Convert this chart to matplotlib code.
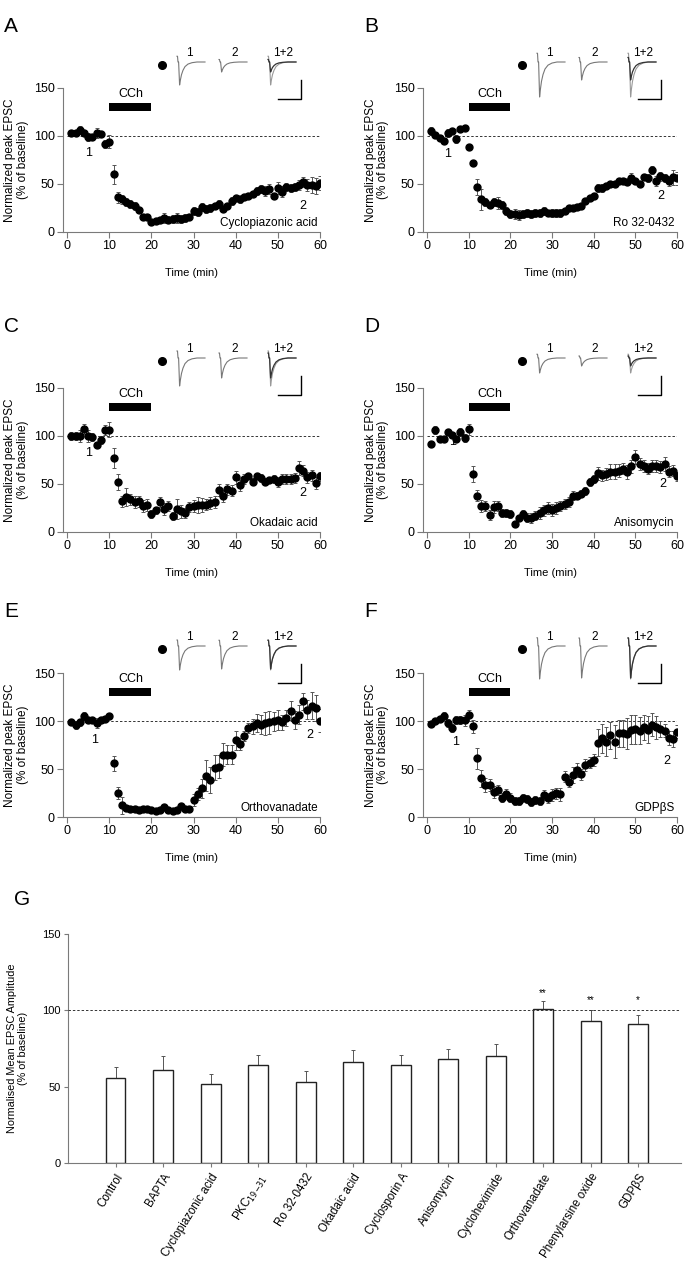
#!/usr/bin/env python3
"""CCh-induced depression of EPSCs under different drugs (panels A-F) and summary bars (G)."""

import matplotlib
matplotlib.use("Agg")
import matplotlib.pyplot as plt

plt.rcParams["font.family"] = ["Liberation Sans", "DejaVu Sans"]

W, H = 685, 1275

TIME = list(range(1, 61))

# panel A: cyclopiazonic acid
A_VAL = [103, 103, 106, 103, 99, 99, 103, 102, 92, 94,
         60, 36, 34, 31, 29, 27, 23, 15.5, 16, 10,
         11, 13, 14.5, 13, 13.5, 14.5, 13.5, 14.5, 16, 22,
         21, 26, 24, 25, 27, 29, 24, 27, 32, 35,
         34, 36, 38, 40, 43, 45, 43, 45, 37, 46,
         42, 47, 46, 47, 49, 52, 49, 49, 48, 51]
A_ERR = [3, 3, 4, 3, 4, 3, 5, 3, 4, 7,
         10, 6, 5, 4, 4, 4, 3, 3, 3, 3,
         3, 3, 5, 4, 4, 5, 4, 4, 3, 4,
         4, 4, 4, 4, 3, 4, 3, 3, 4, 3,
         4, 3, 3, 3, 4, 4, 5, 5, 3, 6,
         6, 4, 4, 4, 5, 5, 6, 8, 8, 7]

# panel B: Ro 32-0432
B_VAL = [105, 101, 98, 95, 103, 105, 97, 107, 108, 89,
         72, 47, 34, 31, 28, 31, 30, 28, 22, 18.5,
         19, 17.5, 19, 20, 19, 20, 20, 22, 20, 20,
         20, 19.5, 22, 25, 25, 26.5, 27, 32, 35, 37.5,
         45.5, 45.5, 48, 50, 50.5, 53, 53, 52, 56, 53,
         50.5, 57, 56, 64.5, 53, 58, 56, 53, 57, 56]
B_ERR = [4, 3, 3, 3, 4, 3, 4, 3, 3, 3,
         3, 8, 11, 4, 3, 4, 6, 4, 4, 4,
         5, 5, 4, 4, 4, 4, 4, 4, 3, 4,
         4, 4, 3, 3, 3, 3, 3, 3, 3, 3,
         4, 4, 3, 3, 3, 3, 3, 3, 5, 3,
         3, 3, 4, 4, 5, 5, 4, 5, 8, 7]

# panel C: okadaic acid
C_VAL = [99.7, 100, 100, 107, 100, 99, 91, 96, 106.5, 106.5,
         77, 52, 32, 36.5, 34, 31, 32, 27, 28, 19,
         22.5, 31, 24, 27, 17, 24, 21.5, 20, 26, 27,
         28, 28, 28.5, 30, 31, 43.5, 37.5, 44.5, 43, 57,
         48.5, 55, 58, 52.5, 58, 56.5, 52.5, 54, 55, 52,
         55, 55, 55.5, 56.5, 66.5, 64, 57, 59, 51, 58]
C_ERR = [4, 4, 6, 5, 6, 4, 3, 4, 5, 8,
         10, 8, 6, 9, 6, 6, 6, 6, 6, 4,
         4, 5, 6, 5, 4, 10, 7, 5, 5, 6,
         8, 7, 6, 6, 6, 6, 6, 6, 6, 7,
         6, 5, 3, 4, 3, 4, 4, 3, 4, 5,
         5, 5, 5, 5, 7, 6, 6, 6, 6, 5]

# panel D: anisomycin
D_VAL = [92, 106, 97, 97, 104, 101, 97, 104, 98, 107,
         60.5, 38, 27, 27, 18, 26, 27, 20, 20, 18.5,
         8, 14.5, 19, 15, 14.5, 17, 20, 22.5, 25, 23,
         25, 27, 29, 31, 38, 38, 40, 42.5, 52, 55,
         61, 59, 60.5, 63, 63, 64, 66, 62.5, 68.5, 78,
         71, 69, 66, 68.5, 68.5, 67.5, 71, 63, 64, 58]
D_ERR = [3, 4, 3, 3, 3, 3, 3, 4, 4, 6,
         8, 6, 6, 5, 5, 6, 5, 4, 4, 4,
         3, 3, 4, 5, 5, 5, 6, 6, 6, 6,
         6, 5, 5, 5, 5, 4, 4, 4, 4, 4,
         7, 6, 6, 8, 8, 7, 6, 7, 7, 7,
         6, 6, 6, 6, 6, 6, 7, 6, 6, 5]

# panel E: orthovanadate
E_VAL = [99, 96, 98.5, 105, 101, 101, 98, 101, 102, 105,
         56, 25, 12, 9, 8, 8, 7, 8.7, 8, 7,
         6, 7, 10, 7, 6.6, 7, 11, 8.7, 8, 17.7,
         23.7, 30, 43, 38.6, 51.5, 52.5, 64.7, 64.7, 64.7, 79.7,
         75.9, 84.6, 92.6, 94.3, 97.8, 96, 97.8, 98.8, 99.5, 101,
         98.5, 103, 110.7, 101, 106.5, 120.4, 111.7, 116, 113.5, 100.2]
E_ERR = [3, 4, 4, 4, 3, 3, 5, 3, 3, 3,
         8, 6, 9, 3, 3, 3, 3, 3, 3, 3,
         2, 2, 3, 3, 3, 3, 3, 3, 3, 6,
         6, 10, 16, 14, 13, 12, 12, 10, 10, 10,
         6, 5, 5, 8, 9, 10, 12, 12, 10, 10,
         8, 8, 10, 9, 10, 9, 10, 14, 14, 12]

# panel F: GDPbetaS
F_VAL = [97, 99.5, 102, 104.8, 97.8, 92.6, 101, 101, 100.6, 105.8,
         94.3, 61.3, 40.4, 33.4, 33.4, 25.8, 28.2, 20.2, 24, 20.2,
         16.7, 17, 20.2, 18.4, 15.3, 17.7, 16.7, 23, 19.5, 23,
         24.7, 23.7, 42.1, 36.9, 43.9, 49, 44.5, 54.3, 56.7, 59.5,
         77.6, 82.1, 78.6, 84.9, 78.6, 87.4, 87.4, 86.7, 90.8, 91.5,
         90.1, 93.3, 90.8, 96, 93.3, 91.5, 90.1, 82.1, 81.4, 89]
F_ERR = [3, 3, 3, 5, 4, 4, 4, 4, 6, 6,
         7, 11, 9, 7, 6, 6, 5, 5, 5, 5,
         4, 4, 4, 4, 4, 4, 4, 5, 5, 6,
         6, 7, 6, 6, 8, 7, 6, 6, 6, 6,
         14, 15, 15, 14, 17, 14, 14, 16, 15, 15,
         14, 13, 14, 12, 12, 8, 7, 7, 8, 7]

DRUGS = ["Cyclopiazonic acid", "Ro 32-0432", "Okadaic acid",
         "Anisomycin", "Orthovanadate", "GDP\u03b2S"]
LETTERS = ["A", "B", "C", "D", "E", "F"]
# relative EPSC amplitude of example traces 1 and 2 (inset)
TRACE1_AMP = [23, 35, 28, 15, 24, 33]
TRACE2_AMP = [10, 18, 20, 8, 23, 32]
# "1" and "2" label positions (time, % baseline)
LABEL1_POS = [(5, 82), (5, 81), (5, 82), (6, 94), (6.6, 80), (6.8, 78)]
LABEL2_POS = [(56, 27), (56, 38), (56, 41), (56.5, 50), (57.6, 85), (57.5, 58)]

# example EPSC waveform (normalised)
TRACE_MS = [0, 0.5, 1, 1.6, 2.6, 3.4, 4.5, 6, 8, 11, 15, 20, 28]
TRACE_SHAPE = [0.25, 0.25, 0, 0, -1.0, -0.78, -0.55, -0.36, -0.2, -0.09, -0.03, 0, 0]

# panel G summary
G_LABELS = ["Control", "BAPTA", "Cyclopiazonic acid", r"PKC$_{19\mathrm{-}31}$",
            "Ro 32-0432", "Okadaic acid", "Cyclosporin A", "Anisomycin",
            "Cycloheximide", "Orthovanadate", "Phenylarsine oxide", "GDP\u03b2S"]
G_MEAN = [56, 61, 52, 64, 53, 66, 64, 68, 70, 101, 93, 91]
G_SEM = [7, 9, 6, 7, 7, 8, 7, 7, 8, 5, 7, 6]
G_STARS = {9: ("**", 111), 10: ("**", 107), 11: ("*", 107)}

SPINE = "#7a7a7a"


def frac_rect(left, top, right, bottom):
    return [left / W, 1 - bottom / H, (right - left) / W, (bottom - top) / H]


def draw_inset(fig, cx, cy, amp1, amp2):
    ax = fig.add_axes(frac_rect(cx - 8, cy - 23, cx + 147, cy + 42))
    ax.set_xlim(-8, 147)
    ax.set_ylim(-42, 23)
    ax.axis("off")
    ax.plot([0], [0], "o", color="black", markersize=5.5)
    y1 = [3 + amp1 * s for s in TRACE_SHAPE]
    y2 = [3 + amp2 * s for s in TRACE_SHAPE]
    ax.plot([15 + t for t in TRACE_MS], y1, color="#777777", lw=0.8)
    ax.plot([57 + t for t in TRACE_MS], y2, color="#777777", lw=0.8)
    ax.plot([106 + t for t in TRACE_MS], y1, color="#999999", lw=0.8)
    ax.plot([106 + t for t in TRACE_MS], y2, color="#333333", lw=0.9)
    for x, s in [(27, "1"), (73, "2"), (121, "1+2")]:
        ax.text(x, 12, s, ha="center", va="center", fontsize=8.5)
    ax.plot([116, 139, 139], [-34, -34, -15], color="black", lw=1.0)


def time_panel(fig, rect, vals, errs, drug, lab1, lab2):
    ax = fig.add_axes(rect)
    ax.errorbar(TIME, vals, yerr=errs, fmt="o", color="black", markersize=5,
                ecolor="#555555", elinewidth=0.7, capsize=1.6, capthick=0.7, zorder=3)
    ax.hlines(100, 0, 60, colors="#333333", linestyles=(0, (2.5, 2)), lw=0.7, zorder=1)
    ax.fill_between([10, 20], 126, 134, color="black", lw=0)
    ax.text(15, 137, "CCh", ha="center", va="bottom", fontsize=9)
    ax.text(lab1[0], lab1[1], "1", ha="center", va="center", fontsize=9)
    ax.text(lab2[0], lab2[1], "2", ha="center", va="center", fontsize=9)
    ax.text(59.5, 3, drug, ha="right", va="bottom", fontsize=8.5)
    ax.set_xlim(-1, 60)
    ax.set_ylim(0, 150)
    ax.set_xticks(range(0, 61, 10))
    ax.set_yticks([0, 50, 100, 150])
    for s in ("top", "right"):
        ax.spines[s].set_visible(False)
    for s in ("left", "bottom"):
        ax.spines[s].set_color(SPINE)
    ax.tick_params(direction="out", length=4, color=SPINE, labelsize=9, pad=2)
    ax.set_xlabel("Time (min)", fontsize=8)
    ax.set_ylabel("Normalized peak EPSC\n(% of baseline)", fontsize=8.5, linespacing=1.1)
    ax.xaxis.set_label_coords(0.5, -0.25)
    ax.yaxis.set_label_coords(-0.132, 0.5)
    return ax


def main():
    fig = plt.figure(figsize=(W / 100, H / 100), dpi=100)

    lefts = [63, 423]
    rights = [320, 677]
    tops = [88, 388, 673]
    dots_y = [65, 361, 649]
    letter_y = [32, 332, 617]
    letter_x = [4, 364]
    for i in range(6):
        row, col = divmod(i, 2)
        rect = frac_rect(lefts[col], tops[row], rights[col], tops[row] + 144)
        vals = [A_VAL, B_VAL, C_VAL, D_VAL, E_VAL, F_VAL][i]
        errs = [A_ERR, B_ERR, C_ERR, D_ERR, E_ERR, F_ERR][i]
        time_panel(fig, rect, vals, errs, DRUGS[i], LABEL1_POS[i], LABEL2_POS[i])
        draw_inset(fig, lefts[col] + 99, dots_y[row], TRACE1_AMP[i], TRACE2_AMP[i])
        fig.text(letter_x[col] / W, 1 - letter_y[row] / H, LETTERS[i],
                 fontsize=15, va="baseline", ha="left")

    # panel G
    ax = fig.add_axes(frac_rect(68, 934, 681, 1163))
    pos = list(range(1, len(G_MEAN) + 1))
    ax.bar(pos, G_MEAN, width=0.42, color="white", edgecolor="#222222", lw=1.0, zorder=2)
    ax.errorbar(pos, G_MEAN, yerr=[[0] * len(G_SEM), G_SEM], fmt="none",
                ecolor="#555555", elinewidth=0.7, capsize=1.5, capthick=0.7, zorder=1)
    ax.axhline(100, color="#333333", linestyle=(0, (2.5, 2)), lw=0.7, zorder=3)
    for k, (s, y) in G_STARS.items():
        ax.text(pos[k], y, s, ha="center", va="center", fontsize=7)
    ax.set_xlim(0, 12.9)
    ax.set_ylim(0, 150)
    ax.set_yticks([0, 50, 100, 150])
    ax.set_xticks(pos)
    ax.set_xticklabels(G_LABELS, rotation=58, ha="right", va="top",
                       rotation_mode="anchor", fontsize=8.3)
    for s in ("top", "right"):
        ax.spines[s].set_visible(False)
    for s in ("left", "bottom"):
        ax.spines[s].set_color(SPINE)
    ax.tick_params(axis="y", direction="out", length=3, color=SPINE, labelsize=8, pad=2)
    ax.tick_params(axis="x", direction="out", length=3, color=SPINE, pad=3)
    ax.set_ylabel("Normalised Mean EPSC Amplitude\n(% of baseline)", fontsize=7.8,
                  linespacing=1.1)
    ax.yaxis.set_label_coords(-0.065, 0.5)
    fig.text(14 / W, 1 - 905 / H, "G", fontsize=15, va="baseline", ha="left")

    fig.savefig("out.png", dpi=100)


if __name__ == "__main__":
    main()
